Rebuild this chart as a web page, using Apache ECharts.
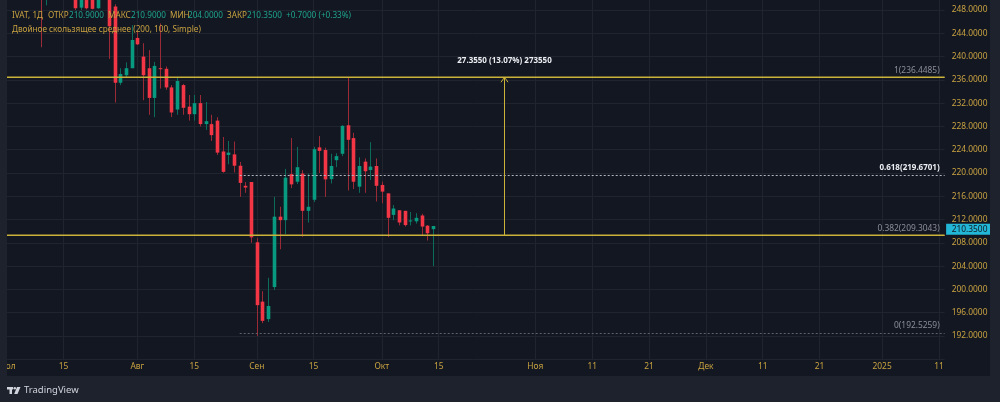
<!DOCTYPE html>
<html lang="ru">
<head>
<meta charset="UTF-8">
<title>IVAT, 1Д</title>
<style>
  html, body { margin: 0; padding: 0; background: #1e222d; }
  #main { width: 1000px; height: 402px; }
</style>
</head>
<body>
<div id="main"></div>
<script src="https://cdn.jsdelivr.net/npm/echarts@6/dist/echarts.min.js"></script>
<script>
// дневные свечи IVAT: 28.06 - 14.10.2024 (индекс бара = позиция на оси)
var opens  = [258.0, 255.0, 256.0, 254.0, 255.0, 253.0, 252.0, 254.0, 251.5, 254.0,
              256.0, 253.0, 255.5, 253.0, 248.4, 250.5, 250.0, 248.3, 252.0, 253.0,
              248.6, 235.5, 236.8, 238.0, 243.2, 240.0, 238.0, 232.9, 238.0, 237.9,
              234.7, 230.9, 235.1, 231.4, 230.1, 232.0, 228.4, 228.4, 229.0, 223.7,
              223.1, 223.2, 221.25, 217.8, 218.45, 208.1, 197.9, 194.9, 200.4, 212.5,
              211.9, 219.8, 218.5, 219.9, 213.5, 215.4, 224.4, 223.95, 218.95, 222.2,
              223.3, 228.2, 226.0, 217.65, 221.95, 220.5, 221.2, 217.95, 216.5, 212.8,
              213.6, 213.5, 211.8, 211.7, 212.7, 210.95, 210.9];
var highs  = [260.0, 258.0, 259.0, 257.0, 258.0, 256.0, 255.0, 256.0, 255.0, 257.0,
              259.0, 257.0, 258.0, 255.0, 251.5, 252.0, 252.0, 251.0, 256.0, 255.0,
              249.0, 238.0, 239.0, 245.4, 244.3, 242.3, 241.1, 239.1, 245.7, 238.3,
              235.1, 236.5, 235.3, 233.4, 233.4, 233.4, 232.2, 230.0, 229.6, 226.2,
              225.5, 225.4, 221.9, 218.45, 218.45, 208.8, 199.7, 202.0, 215.9, 214.2,
              220.7, 226.0, 224.5, 220.5, 219.9, 224.5, 226.35, 224.35, 223.3, 223.4,
              228.2, 236.45, 226.9, 222.7, 222.5, 225.3, 222.5, 218.5, 216.5, 214.5,
              213.6, 213.5, 213.3, 213.1, 213.0, 211.05, 210.9];
var lows   = [254.0, 252.0, 253.0, 251.5, 252.0, 250.5, 250.2, 241.6, 248.8, 251.0,
              252.0, 251.0, 252.0, 248.0, 248.0, 248.1, 248.1, 248.2, 250.2, 239.6,
              232.1, 235.1, 236.4, 238.0, 242.0, 232.5, 230.0, 229.6, 234.5, 234.3,
              229.6, 230.0, 230.0, 229.0, 229.0, 228.0, 227.4, 225.5, 223.1, 220.05,
              221.5, 220.1, 215.9, 216.6, 208.0, 192.0, 194.2, 194.4, 199.9, 206.9,
              209.5, 217.4, 218.1, 209.05, 211.5, 215.0, 220.0, 215.9, 218.2, 221.0,
              222.9, 217.0, 217.25, 216.6, 216.6, 218.8, 215.1, 214.8, 209.0, 211.9,
              211.0, 210.8, 211.0, 211.3, 209.2, 208.4, 204.0];
var closes = [255.0, 256.0, 254.0, 255.0, 253.0, 252.0, 254.0, 251.5, 254.0, 256.0,
              253.0, 255.5, 253.0, 248.3, 250.5, 248.3, 248.2, 250.5, 253.0, 245.2,
              235.5, 237.0, 238.0, 242.85, 242.1, 236.8, 232.9, 238.4, 237.9, 234.7,
              230.4, 235.8, 231.2, 230.1, 232.0, 228.4, 228.9, 226.5, 223.5, 220.2,
              223.5, 221.25, 218.3, 217.5, 208.95, 197.3, 194.6, 197.15, 212.5, 211.9,
              219.2, 218.05, 221.0, 213.5, 214.2, 224.1, 223.8, 218.9, 221.2, 222.9,
              228.1, 225.7, 218.5, 221.2, 220.3, 221.1, 217.8, 216.8, 212.3, 213.9,
              211.5, 211.05, 211.85, 212.3, 210.8, 209.65, 210.35];
var futureDays = 90;

// подписи шкалы времени: [индекс бара, текст]
var xTicks = [[1, 'Июл'], [11, '15'], [24, 'Авг'], [34, '15'], [45, 'Сен'], [55, '15'],
              [67, 'Окт'], [77, '15'], [94, 'Ноя'], [104, '11'], [114, '21'], [124, 'Дек'],
              [134, '11'], [144, '21'], [155, '2025'], [165, '11']];

// коррекция Фибоначчи
var fibLow = 192.5259, fibHigh = 236.4485;
var fibRatios = [0, 0.382, 0.618, 1];
var fibLabels = ['0(192.5259)', '0.382(209.3043)', '0.618(219.6701)', '1(236.4485)'];
var fibStart = 42;
// горизонтальные линии
var hLines = [236.4485, 209.3043];
// измерение диапазона
var measure = { bar: 88, from: 209.3043, to: 236.4485, text: '27.3550 (13.07%) 273550' };

var gold = '#c9a341';
var teal = '#1fa38d';
var yellow = '#cbb238';
var font = '"Noto Sans", sans-serif';
var fs = 8.2;

var slots = [];
for (var i = 0; i < closes.length + futureDays; i++) slots.push(i);
var tickMap = {};
xTicks.forEach(function (t) { tickMap[t[0]] = t[1]; });

var candles = opens.map(function (o, i) {
  return [i, o, closes[i], lows[i], highs[i]];
});

function renderCandle(params, api) {
  var i = api.value(0);
  var o = api.coord([i, api.value(1)]);
  var c = api.coord([i, api.value(2)]);
  var lo = api.coord([i, api.value(3)]);
  var hi = api.coord([i, api.value(4)]);
  // цвет по предыдущему закрытию
  var prev = i > 0 ? closes[i - 1] : opens[i];
  var up = closes[i] >= prev;
  var x = Math.round(o[0]) + 0.5;
  var bw = 3.6;
  var top = Math.min(o[1], c[1]);
  var h = Math.max(Math.abs(o[1] - c[1]), 1);
  return {
    type: 'group',
    children: [
      { type: 'line', shape: { x1: x, y1: hi[1], x2: x, y2: lo[1] },
        style: { stroke: up ? '#0c6b5b' : '#9a2b36', lineWidth: 1 } },
      { type: 'rect', shape: { x: x - bw / 2, y: top, width: bw, height: h },
        style: { fill: up ? '#089981' : '#f23645' } }
    ]
  };
}

function legendText(x, y, text, color) {
  return { type: 'text', z: 101, x: x, y: y,
           style: { text: text, fill: color, font: fs + 'px ' + font, verticalAlign: 'middle' } };
}

var myChart = echarts.init(document.getElementById('main'));

myChart.setOption({
  backgroundColor: '#131722',
  animation: false,
  grid: {
    left: 0.94, width: 943.7, top: -13.28, height: 372.56,
    containLabel: false, outerBoundsMode: 'none'
  },
  xAxis: {
    type: 'category',
    data: slots,
    boundaryGap: false,
    axisLine: { show: false },
    axisTick: { show: false },
    axisLabel: {
      interval: function (idx) { return tickMap[idx] !== undefined; },
      formatter: function (v, idx) { return tickMap[idx] || ''; },
      color: gold, fontSize: 8.4, fontFamily: 'Noto Sans', margin: 3
    },
    splitLine: {
      show: true,
      interval: function (idx) { return tickMap[idx] !== undefined; },
      lineStyle: { color: '#20242e', width: 1 }
    }
  },
  yAxis: {
    type: 'value',
    position: 'right',
    min: 188, max: 252, interval: 4,
    axisLine: { show: false },
    axisTick: { show: false },
    axisLabel: {
      formatter: function (v) { return v.toFixed(4); },
      color: gold, fontSize: 8.4, fontFamily: 'Noto Sans', margin: 7,
      showMinLabel: false, showMaxLabel: false
    },
    splitLine: { lineStyle: { color: '#20242e', width: 1 } }
  },
  series: [
    {
      // свечи
      type: 'custom',
      z: 2,
      silent: true,
      data: candles,
      encode: { x: 0, y: [1, 2, 3, 4] },
      renderItem: renderCandle
    },
    {
      // уровни Фибоначчи
      type: 'custom',
      z: 3,
      silent: true,
      data: fibRatios.map(function (r) { return [fibStart, fibLow + r * (fibHigh - fibLow)]; }),
      encode: { x: 0, y: 1 },
      renderItem: function (params, api) {
        var k = params.dataIndex;
        var p = api.coord([api.value(0), api.value(1)]);
        var right = params.coordSys.x + params.coordSys.width;
        var bright = fibRatios[k] === 0.618;
        var y = Math.round(p[1]) + 0.5;
        return {
          type: 'group',
          children: [
            { type: 'line', shape: { x1: p[0], y1: y, x2: right, y2: y },
              style: { stroke: bright ? '#b2b5be' : '#5d606b', lineWidth: 1, lineDash: [2, 2] } },
            { type: 'text', style: {
                text: fibLabels[k], x: right - 5, y: p[1] - 3,
                align: 'right', verticalAlign: 'bottom',
                fill: bright ? '#eceef2' : '#8b8e97',
                font: (bright ? 'bold 8px ' : '8.4px ') + font } }
          ]
        };
      }
    },
    {
      // горизонтальные линии
      type: 'custom',
      z: 4,
      silent: true,
      data: hLines.map(function (v) { return [0, v]; }),
      encode: { x: 0, y: 1 },
      renderItem: function (params, api) {
        var p = api.coord([api.value(0), api.value(1)]);
        var right = params.coordSys.x + params.coordSys.width;
        return { type: 'line', shape: { x1: params.coordSys.x, y1: p[1], x2: right, y2: p[1] },
                 style: { stroke: yellow, lineWidth: 1.5 } };
      }
    },
    {
      // измерение диапазона
      type: 'custom',
      z: 4,
      silent: true,
      data: [[measure.bar, measure.from, measure.to]],
      encode: { x: 0, y: [1, 2] },
      renderItem: function (params, api) {
        var b = api.value(0);
        var a = api.coord([b, api.value(1)]);
        var t = api.coord([b, api.value(2)]);
        var x = Math.round((a[0] + api.coord([b + 1, api.value(1)])[0]) / 2) + 0.5;
        return {
          type: 'group',
          children: [
            { type: 'line', shape: { x1: x, y1: a[1], x2: x, y2: t[1] },
              style: { stroke: yellow, lineWidth: 1 } },
            { type: 'polyline', shape: { points: [[x - 3.5, t[1] + 5], [x, t[1]], [x + 3.5, t[1] + 5]] },
              style: { stroke: yellow, lineWidth: 1, fill: null } },
            { type: 'text', style: {
                text: measure.text, x: x, y: t[1] - 17,
                align: 'center', verticalAlign: 'middle',
                fill: '#eceef2', font: 'bold 8px ' + font } }
          ]
        };
      }
    },
    {
      // метка последней цены
      type: 'custom',
      z: 6,
      silent: true,
      data: [[closes.length - 1, closes[closes.length - 1]]],
      encode: { x: 0, y: 1 },
      renderItem: function (params, api) {
        var p = api.coord([api.value(0), api.value(1)]);
        var right = params.coordSys.x + params.coordSys.width;
        return {
          type: 'group',
          children: [
            { type: 'rect', shape: { x: right + 1.5, y: p[1] - 5.5, width: 990 - right - 1.5, height: 11 },
              style: { fill: '#22b7d6' } },
            { type: 'text', style: {
                text: api.value(1).toFixed(4), x: right + 7, y: p[1],
                align: 'left', verticalAlign: 'middle',
                fill: '#131722', font: '8.4px ' + font } }
          ]
        };
      }
    }
  ],
  graphic: [
    // рамка окна
    { type: 'rect', z: 100, shape: { x: 0, y: 0, width: 7, height: 402 }, style: { fill: '#1e222d' } },
    { type: 'rect', z: 100, shape: { x: 990, y: 0, width: 10, height: 402 }, style: { fill: '#1e222d' } },
    { type: 'rect', z: 100, shape: { x: 0, y: 376, width: 1000, height: 26 }, style: { fill: '#1e222d' } },
    // легенда
    legendText(12, 16, 'IVAT, 1Д', gold),
    legendText(48, 16, 'ОТКР', gold),
    legendText(69, 16, opens[76].toFixed(4), teal),
    legendText(108, 16, 'МАКС', gold),
    legendText(131, 16, highs[76].toFixed(4), teal),
    legendText(170, 16, 'МИН', gold),
    legendText(188, 16, lows[76].toFixed(4), teal),
    legendText(227, 16, 'ЗАКР', gold),
    legendText(247, 16, closes[76].toFixed(4), teal),
    legendText(286, 16, '+0.7000 (+0.33%)', teal),
    legendText(12, 30, 'Двойное скользящее среднее (200, 100, Simple)', gold),
    // логотип TradingView
    { type: 'rect', z: 101, shape: { x: 7, y: 387, width: 6, height: 2.5 }, style: { fill: '#d1d4dc' } },
    { type: 'rect', z: 101, shape: { x: 9.5, y: 387, width: 2.5, height: 7 }, style: { fill: '#d1d4dc' } },
    { type: 'circle', z: 101, shape: { cx: 14.8, cy: 388.3, r: 1.3 }, style: { fill: '#d1d4dc' } },
    { type: 'polygon', z: 101, shape: { points: [[17, 387], [20.5, 387], [17.5, 394], [14.2, 394]] }, style: { fill: '#d1d4dc' } },
    { type: 'text', z: 101, x: 24, y: 390.5, style: { text: 'TradingView', fill: '#d1d4dc', font: '9.5px ' + font, verticalAlign: 'middle' } }
  ]
});
</script>
</body>
</html>
